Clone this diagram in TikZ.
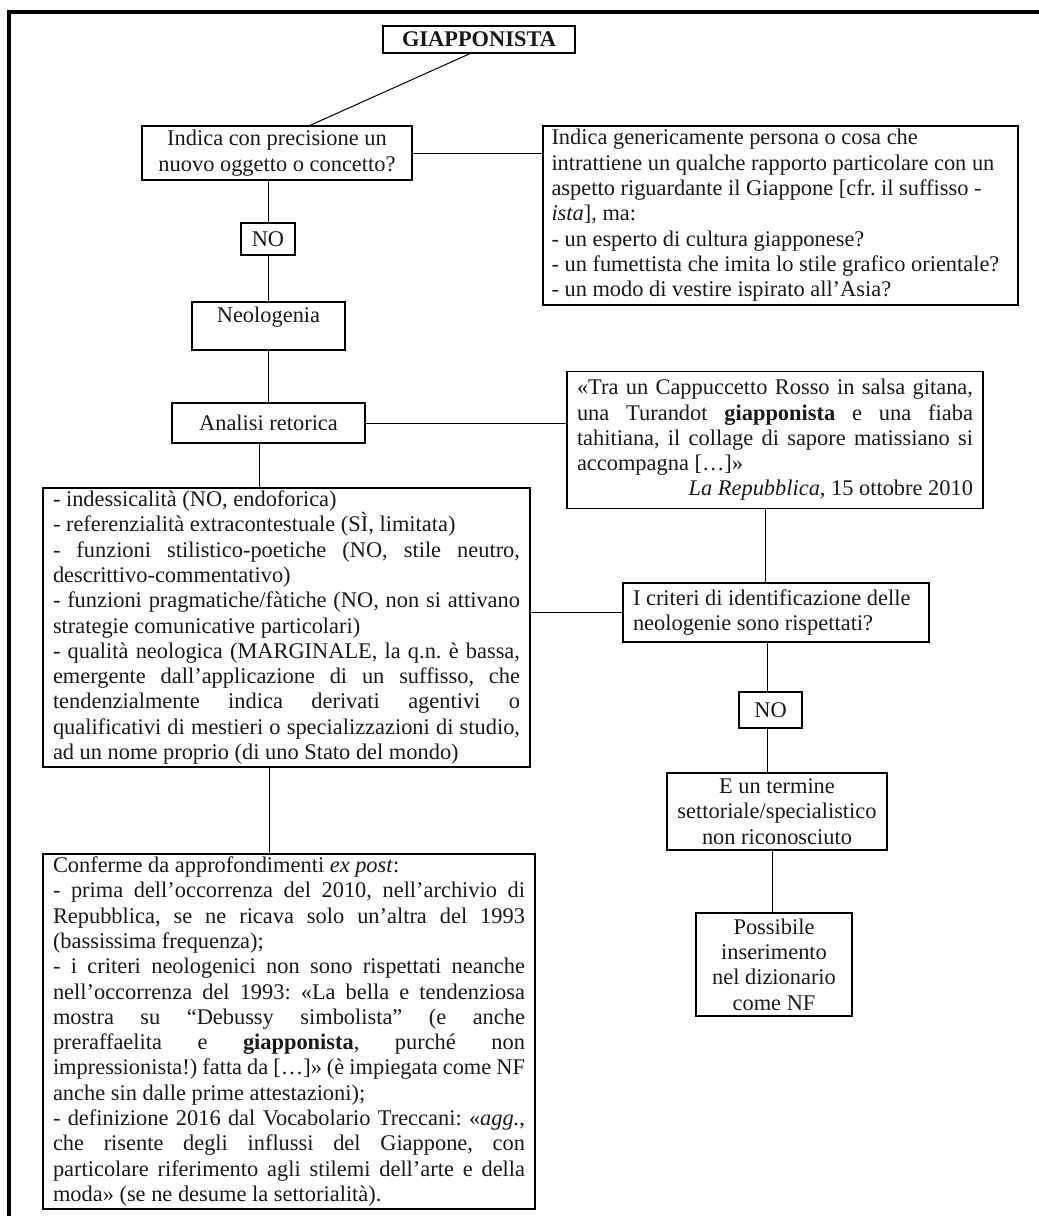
\documentclass[tikz,border=0pt]{standalone}
\usepackage{fontspec}
\setmainfont{Liberation Serif}
\usetikzlibrary{calc}
\setlength{\parindent}{0pt}
\newcommand\jw{400pt}
\newcommand\natsp{\spaceskip=0pt\xspaceskip=0pt\frenchspacing}
\newcommand\jl[1]{\makebox[\jw][s]{\natsp #1}}
\begin{document}
\begin{tikzpicture}[x=1pt,y=-1pt,
  txt/.style={font=\fontsize{22.4}{25.3}\selectfont},
  box/.style={draw=black, line width=1.2pt, txt, inner sep=0pt, text=black!90},
  link/.style={draw=black, line width=1pt}]
\useasboundingbox (0,0) rectangle (1039,1216);
% outer frame (left and top only)
\draw[line width=4pt] (9,1216) -- (9,12) -- (1039,12);

% nodes
\node[box, font=\fontsize{22.4}{25.3}\selectfont\bfseries, minimum width=192, minimum height=27] (g) at (479,39.5) {GIAPPONISTA};
\node[box, minimum width=270, minimum height=54, align=center] (ind) at (277,153)
  {\natsp Indica con precisione un\\ nuovo oggetto o concetto?};
\node[box, minimum width=475, minimum height=179, text width=458, align=left] (rb) at (780.5,215.5)
  {\natsp Indica genericamente persona o cosa che\\
   intrattiene un qualche rapporto particolare con un\\
   aspetto riguardante il Giappone [cfr. il suffisso -\\
   \textit{ista}], ma:\\
   - un esperto di cultura giapponese?\\
   - un fumettista che imita lo stile grafico orientale?\\
   - un modo di vestire ispirato all’Asia?};
\node[box, minimum width=54, minimum height=32] (no1) at (268,239) {NO};
\node[box, minimum width=153, text height=16, text depth=23, inner ysep=4.5pt] (neo) at (268.5,326) {Neologenia};
\node[box, minimum width=193, minimum height=40] (an) at (268.5,423) {\natsp Analisi retorica};
\node[box, minimum width=416, minimum height=137, text width=396, align=left] (tra) at (775,440)
  {\natsp\renewcommand\jw{396pt}%
   \jl{«Tra un Cappuccetto Rosso in salsa gitana,}\\
   \jl{una Turandot \textbf{giapponista} e una fiaba}\\
   \jl{tahitiana, il collage di sapore matissiano si}\\
   accompagna […]»\\
   \makebox[\jw][r]{\natsp\textit{La Repubblica}, 15 ottobre 2010}};
\node[box, minimum width=487, minimum height=279, text width=467, align=left] (lst) at (286.5,627.5)
  {\natsp\renewcommand\jw{467pt}%
   - indessicalità (NO, endoforica)\\
   - referenzialità extracontestuale (SÌ, limitata)\\
   \jl{- funzioni stilistico-poetiche (NO, stile neutro,}\\
   descrittivo-commentativo)\\
   \jl{- funzioni pragmatiche/fàtiche (NO, non si attivano}\\
   strategie comunicative particolari)\\
   \jl{- qualità neologica (MARGINALE, la q.n. è bassa,}\\
   \jl{emergente dall’applicazione di un suffisso, che}\\
   \jl{tendenzialmente indica derivati agentivi o}\\
   \jl{qualificativi di mestieri o specializzazioni di studio,}\\
   ad un nome proprio (di uno Stato del mondo)};
\node[box, minimum width=306, minimum height=59, text width=286, align=left] (cr) at (776,612.5)
  {\natsp I criteri di identificazione delle\\ neologenie sono rispettati?};
\node[box, minimum width=63, minimum height=36] (no2) at (770.5,710) {NO};
\node[box, minimum width=220, minimum height=77, align=center] (eb) at (777,811.5)
  {\natsp E un termine\\ settoriale/specialistico\\ non riconosciuto};
\node[box, minimum width=156, minimum height=103, align=center] (pb) at (774,964.5)
  {\natsp Possibile\\ inserimento\\ nel dizionario\\ come NF};
\node[box, minimum width=492, minimum height=355, text width=472, align=left] (cf) at (289,1031.5)
  {\natsp\renewcommand\jw{472pt}%
   Conferme da approfondimenti \textit{ex post}:\\
   \jl{- prima dell’occorrenza del 2010, nell’archivio di}\\
   \jl{Repubblica, se ne ricava solo un’altra del 1993}\\
   (bassissima frequenza);\\
   \jl{- i criteri neologenici non sono rispettati neanche}\\
   \jl{nell’occorrenza del 1993: «La bella e tendenziosa}\\
   \jl{mostra su “Debussy simbolista” (e anche}\\
   \jl{preraffaelita e \textbf{giapponista}, purché non}\\
   \jl{impressionista!) fatta da […]» (è impiegata come NF}\\
   anche sin dalle prime attestazioni);\\
   \jl{- definizione 2016 dal Vocabolario Treccani: «\textit{agg.},}\\
   \jl{che risente degli influssi del Giappone, con}\\
   \jl{particolare riferimento agli stilemi dell’arte e della}\\
   moda» (se ne desume la settorialità).};

% connectors
\draw[link] ($(g.south)+(-9,0)$) -- ($(ind.north)+(33,0)$);
\draw[link] (ind.east) -- (ind.east -| rb.west);
\draw[link] (ind.south -| no1.north) -- (no1.north);
\draw[link] (no1.south) -- (neo.north -| no1.south);
\draw[link] (neo.south) -- (an.north);
\draw[link] (an.east) -- (an.east -| tra.west);
\coordinate (anb) at ($(an.south)+(-9.5,0)$);
\draw[link] (anb) -- (anb |- lst.north);
\draw[link] (cr.west -| lst.east) -- (cr.west);
\coordinate (trab) at ($(tra.south)+(-10,0)$);
\draw[link] (trab) -- (trab |- cr.north);
\coordinate (crb) at ($(cr.south)+(-9,0)$);
\draw[link] (crb) -- (crb |- no2.north);
\draw[link] (crb |- no2.south) -- (crb |- eb.north);
\coordinate (ebb) at ($(eb.south)+(-5,0)$);
\draw[link] (ebb) -- (ebb |- pb.north);
\coordinate (lstb) at ($(lst.south)+(-17.5,0)$);
\draw[link] (lstb) -- (lstb |- cf.north);
\end{tikzpicture}
\end{document}
